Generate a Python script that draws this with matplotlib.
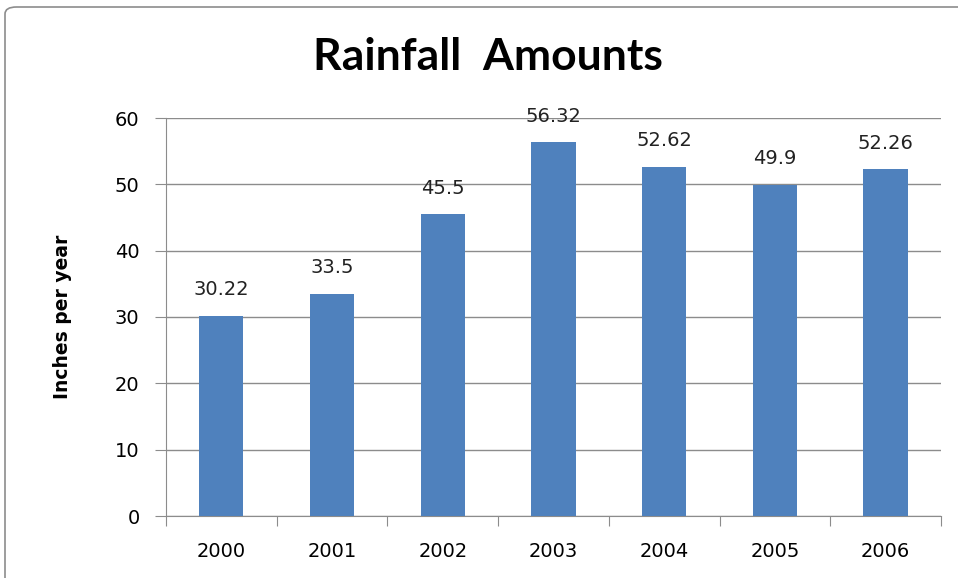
import matplotlib
matplotlib.use("Agg")
import matplotlib.pyplot as plt
from matplotlib.patches import FancyBboxPatch

years = ["2000", "2001", "2002", "2003", "2004", "2005", "2006"]
rainfall = [30.22, 33.5, 45.5, 56.32, 52.62, 49.9, 52.26]
rainfall_labels = ["30.22", "33.5", "45.5", "56.32", "52.62", "49.9", "52.26"]

fig = plt.figure(figsize=(9.58, 5.78), dpi=100)
fig.patch.set_facecolor("white")

# chart frame (runs off the right and bottom edges)
frame = FancyBboxPatch((5 / 958, -0.05), 1.05, 1 - 7 / 578 + 0.05,
                       boxstyle="round,pad=0,rounding_size=0.012",
                       transform=fig.transFigure, facecolor="none",
                       edgecolor="#8c8c8c", linewidth=1.2, clip_on=False)
fig.patches.append(frame)

ax = fig.add_axes([166 / 958, 1 - 516 / 578, 775 / 958, 398 / 578])
x = list(range(len(years)))
ax.bar(x, rainfall, width=0.4, color="#4f81bd", zorder=3)

for xi, v, lab in zip(x, rainfall, rainfall_labels):
    ax.annotate(lab, (xi, v), xytext=(0, 12), textcoords="offset points",
                ha="center", va="bottom", fontsize=14, color="#222222")

ax.set_xlim(-0.5, len(years) - 0.5)
ax.set_ylim(0, 60)
ax.set_yticks(range(0, 61, 10))
ax.yaxis.grid(True, color="#8c8c8c", linewidth=1.0, zorder=0)

ax.set_xticks([i - 0.5 for i in range(len(years) + 1)])
ax.set_xticklabels([])
ax.set_xticks(x, minor=True)
ax.set_xticklabels(years, minor=True, fontsize=14)
ax.tick_params(axis="x", which="major", length=7, color="#8c8c8c", direction="out")
ax.tick_params(axis="x", which="minor", length=0, pad=19)
ax.tick_params(axis="y", length=8, color="#8c8c8c", labelsize=14, pad=11)

for s in ["top", "right"]:
    ax.spines[s].set_visible(False)
ax.spines["left"].set_color("#8c8c8c")
ax.spines["bottom"].set_color("#8c8c8c")

ax.set_ylabel("Inches per year", fontsize=13.5, fontweight="bold", labelpad=31)
fig.text(488 / 958, 1 - 57 / 578, "Rainfall  Amounts", ha="center", va="center",
         fontsize=32, fontweight="bold", family=["Lato", "DejaVu Sans"])

fig.savefig("out.png", dpi=100)
